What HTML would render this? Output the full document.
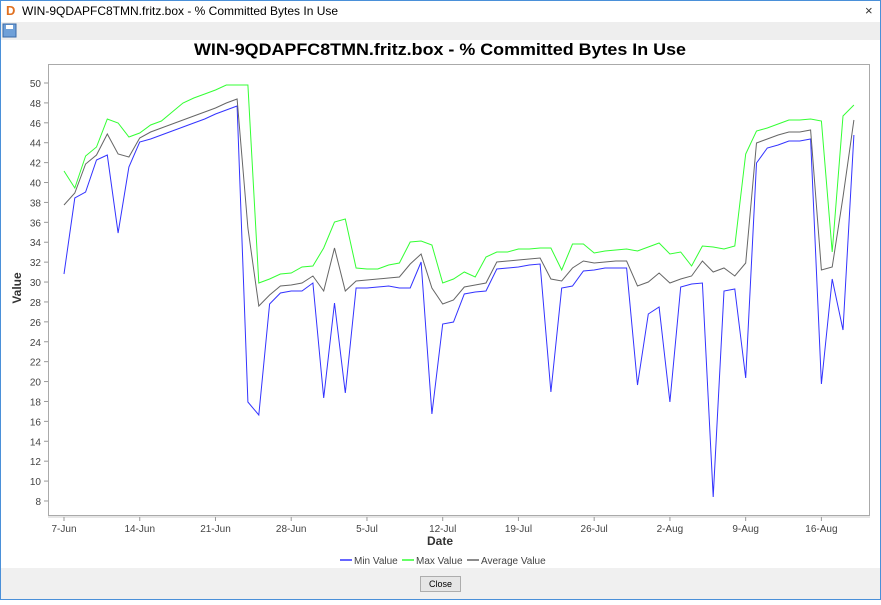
<!DOCTYPE html>
<html><head><meta charset="utf-8"><style>
body{margin:0;width:881px;height:600px;overflow:hidden;background:#fff;font-family:"Liberation Sans",sans-serif}
</style></head><body>
<svg id="s" width="881" height="600" xmlns="http://www.w3.org/2000/svg" font-family="Liberation Sans, sans-serif">
<rect x="0" y="0" width="881" height="600" fill="#fff"/>
<rect x="0" y="22" width="881" height="18" fill="#eeeeee"/>
<rect x="0" y="568" width="881" height="32" fill="#f0f0f0"/>
<rect x="0.5" y="0.5" width="880" height="599" fill="none" stroke="#4a90d9" stroke-width="1"/>
<text x="6" y="15" font-size="13" font-weight="bold" fill="#e07020">D</text>
<text x="22" y="15" font-size="12" fill="#000">WIN-9QDAPFC8TMN.fritz.box - % Committed Bytes In Use</text>
<text x="865" y="15" font-size="13" fill="#333">×</text>
<rect x="3" y="24" width="13" height="13" fill="#6fa0d8" stroke="#3a6aa8"/>
<rect x="6" y="25" width="7" height="4" fill="#fff"/>
<text x="440" y="55" font-size="17" font-weight="bold" text-anchor="middle" textLength="492" lengthAdjust="spacingAndGlyphs">WIN-9QDAPFC8TMN.fritz.box - % Committed Bytes In Use</text>
<rect x="48.5" y="64.5" width="821" height="451" fill="#fff" stroke="#aaa" stroke-width="1"/>
<line x1="48" y1="517" x2="870" y2="517" stroke="#ccc"/>
<g id="ax" font-size="10" fill="#444"></g>
<text x="440" y="545" font-size="12" font-weight="bold" text-anchor="middle" fill="#333">Date</text>
<text transform="translate(21,288) rotate(-90)" font-size="12" font-weight="bold" text-anchor="middle" fill="#333">Value</text>
<g id="d" fill="none" stroke-width="1"></g>
<g font-size="10" fill="#444">
<line x1="340" y1="560" x2="352" y2="560" stroke="#3333ff" stroke-width="1.5"/><text x="354" y="564">Min Value</text>
<line x1="402" y1="560" x2="414" y2="560" stroke="#33ff33" stroke-width="1.5"/><text x="416" y="564">Max Value</text>
<line x1="467" y1="560" x2="479" y2="560" stroke="#666" stroke-width="1.5"/><text x="481" y="564">Average Value</text>
</g>
<rect x="420.5" y="576.5" width="40" height="15" fill="#e6e6e6" stroke="#adadad"/>
<text x="440.5" y="587" font-size="9" text-anchor="middle" fill="#000">Close</text>
</svg>
<script>
var NS="http://www.w3.org/2000/svg";
function el(t,a,p,txt){var e=document.createElementNS(NS,t);for(var k in a)e.setAttribute(k,a[k]);if(txt)e.textContent=txt;p.appendChild(e);}
var ax=document.getElementById('ax');
for(var v=8;v<=50;v+=2){var y=83+(50-v)*9.952;el('line',{x1:44,y1:y,x2:48,y2:y,stroke:'#999'},ax);el('text',{x:41,y:y+4,'text-anchor':'end'},ax,String(v));}
var lab=['7-Jun','14-Jun','21-Jun','28-Jun','5-Jul','12-Jul','19-Jul','26-Jul','2-Aug','9-Aug','16-Aug'];
for(var i=0;i<lab.length;i++){var x=64+75.74*i;el('line',{x1:x,y1:517,x2:x,y2:521,stroke:'#999'},ax);el('text',{x:x,y:532,'text-anchor':'middle'},ax,lab[i]);}
var G=[171,188,156,147,119,123,137,133,125,121,112,103,98,94,90,85,85,85,283,279,274,273,267,266,248,222,219,268,269,269,265,263,242,241,245,283,279,272,277,257,252,252,249,249,248,248,270,244,244,253,251,250,249,251,247,243,254,252,266,246,247,249,246,154,131,128,124,120,120,119,121,252,116,105];
var A=[205,193,164,155,134,154,157,138,132,128,124,120,116,112,108,103,99,228,306,295,286,285,283,276,291,248,291,281,280,279,278,277,264,254,288,304,300,287,285,283,262,261,260,259,258,279,281,268,261,263,262,261,261,286,282,273,283,279,276,261,272,268,276,263,143,139,135,132,132,130,270,267,197,120];
var B=[274,198,192,160,155,233,167,142,139,135,131,127,123,119,114,110,106,402,415,304,293,291,291,283,398,303,393,288,288,287,286,288,288,262,414,324,322,294,292,291,269,268,267,265,264,392,288,286,271,270,268,268,268,385,314,307,402,287,284,283,497,291,289,378,163,148,145,141,141,139,384,279,330,135];
var dg=document.getElementById('d');
function pl(a,c){var p=[];for(var i=0;i<a.length;i++)p.push((64+10.82*i).toFixed(1)+','+a[i]);el('polyline',{points:p.join(' '),stroke:c},dg);}
pl(B,'#3333ff');pl(G,'#33ff33');pl(A,'#666666');
</script>
</body></html>
